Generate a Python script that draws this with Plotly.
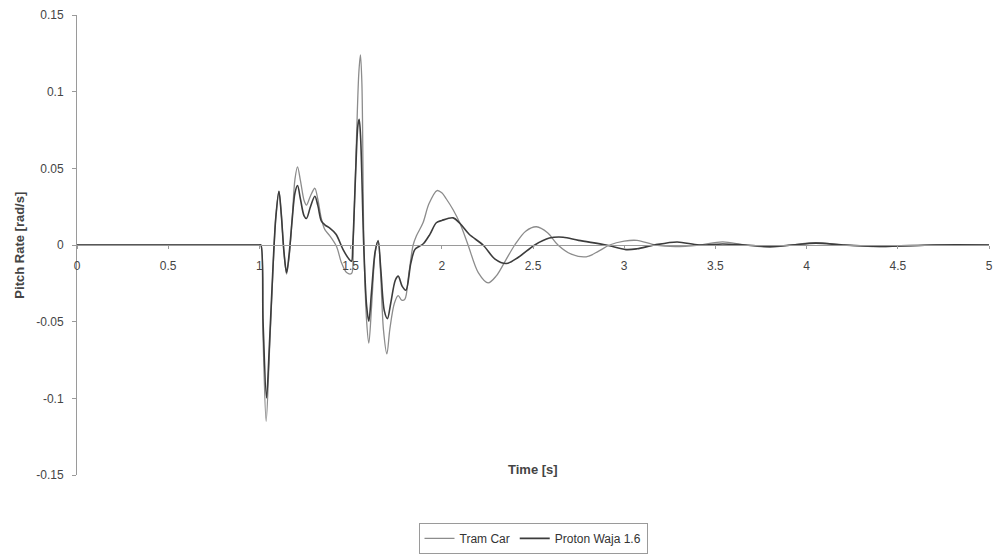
import plotly.graph_objects as go

# Pitch-rate response of two vehicles crossing a bump
t_tram = [0, 0.5, 1.0, 1.008, 1.02, 1.037, 1.055, 1.075, 1.09, 1.107, 1.12, 1.135, 1.149,
          1.163, 1.18, 1.195, 1.209, 1.225, 1.245, 1.258, 1.28, 1.304, 1.32, 1.34, 1.359,
          1.386, 1.423, 1.45, 1.478, 1.505, 1.514, 1.53, 1.545, 1.554, 1.562, 1.573, 1.588,
          1.6, 1.615, 1.635, 1.651, 1.665, 1.68, 1.699, 1.715, 1.74, 1.761, 1.78, 1.797,
          1.82, 1.843, 1.861, 1.897, 1.93, 1.974, 2.0, 2.025, 2.062, 2.1, 2.144, 2.2, 2.254,
          2.3, 2.35, 2.4, 2.46, 2.519, 2.58, 2.637, 2.71, 2.792, 2.86, 2.92, 3.0, 3.07, 3.17,
          3.28, 3.41, 3.54, 3.66, 3.8, 3.92, 4.05, 4.2, 4.4, 4.7, 5.0]
v_tram = [0, 0, 0, 0, -0.06, -0.115, -0.07, -0.015, 0.018, 0.035, 0.02, -0.005, -0.019,
          -0.008, 0.018, 0.043, 0.051, 0.042, 0.029, 0.026, 0.032, 0.037, 0.03, 0.017, 0.010,
          0.006, -0.001, -0.0116, -0.018, -0.0186, 0.0, 0.06, 0.112, 0.124, 0.105, 0.0, -0.05,
          -0.064, -0.04, -0.005, 0.003, -0.02, -0.055, -0.071, -0.055, -0.038, -0.033, -0.036, -0.0355,
          -0.018, 0.0, 0.006, 0.0145, 0.027, 0.0355, 0.034, 0.030, 0.023, 0.014, 0.0, -0.018, -0.0247,
          -0.02, -0.01, 0.0, 0.009, 0.0119, 0.008, 0.0, -0.006, -0.0077, -0.004, 0.0, 0.0025, 0.003, 0.0,
          -0.001, 0.0, 0.002, 0.0, -0.0015, 0.0, 0.0015, 0.0, -0.001, 0.0, 0.0]

t_proton = [0, 0.5, 1.0, 1.008, 1.02, 1.039, 1.055, 1.075, 1.09, 1.107, 1.12, 1.135, 1.149,
            1.163, 1.18, 1.195, 1.209, 1.225, 1.245, 1.258, 1.28, 1.304, 1.32, 1.34, 1.36,
            1.386, 1.42, 1.459, 1.49, 1.505, 1.512, 1.527, 1.54, 1.547, 1.555, 1.572, 1.588,
            1.6, 1.615, 1.635, 1.651, 1.665, 1.685, 1.702, 1.72, 1.745, 1.761, 1.783, 1.803,
            1.83, 1.852, 1.875, 1.9, 1.934, 1.97, 2.0, 2.062, 2.1, 2.15, 2.226, 2.29, 2.354,
            2.42, 2.51, 2.59, 2.665, 2.75, 2.9, 3.01, 3.07, 3.167, 3.29, 3.41, 3.54, 3.66, 3.8,
            3.92, 4.05, 4.2, 4.4, 4.7, 5.0]
v_proton = [0, 0, 0, 0, -0.05, -0.0997, -0.065, -0.013, 0.018, 0.035, 0.02, -0.005, -0.018,
            -0.006, 0.017, 0.034, 0.0388, 0.030, 0.019, 0.0173, 0.025, 0.0318, 0.026, 0.0155, 0.013,
            0.011, 0.007, -0.003, -0.009, -0.0106, 0.0, 0.045, 0.078, 0.0819, 0.07, 0.0, -0.04,
            -0.0497, -0.03, -0.004, 0.0025, -0.015, -0.043, -0.048, -0.038, -0.023, -0.0203, -0.027, -0.0295,
            -0.012, -0.003, -0.001, 0.001, 0.0068, 0.0145, 0.016, 0.0177, 0.014, 0.007, 0.0, -0.009, -0.0121,
            -0.008, 0.0, 0.0045, 0.0051, 0.003, 0.0, -0.003, -0.0025, 0.0, 0.002, 0.0, 0.0007, 0.0, -0.0009,
            0.0, 0.0012, 0.0, -0.0009, 0.0, 0.0]

x_ticks = [0, 0.5, 1, 1.5, 2, 2.5, 3, 3.5, 4, 4.5, 5]
x_tick_text = ["0", "0.5", "1", "1.5", "2", "2.5", "3", "3.5", "4", "4.5", "5"]
y_ticks = [0.15, 0.1, 0.05, 0, -0.05, -0.1, -0.15]
y_tick_text = ["0.15", "0.1", "0.05", "0", "-0.05", "-0.1", "-0.15"]

FONT = "Arial, Liberation Sans, sans-serif"

fig = go.Figure()
fig.add_trace(go.Scatter(
    x=t_tram, y=v_tram, name="Tram Car", mode="lines",
    line=dict(color="#8c8c8c", width=1.3, shape="spline", smoothing=0.9),
))
fig.add_trace(go.Scatter(
    x=t_proton, y=v_proton, name="Proton Waja 1.6", mode="lines",
    line=dict(color="#3c3c3c", width=1.6, shape="spline", smoothing=0.9),
))

fig.update_layout(
    width=998, height=555,
    margin=dict(l=77, r=9, t=15, b=80, autoexpand=False),
    paper_bgcolor="white", plot_bgcolor="white",
    font=dict(family=FONT, size=12, color="#333333"),
    showlegend=True,
    legend=dict(
        orientation="h", x=0.5, xanchor="center", y=-0.104, yanchor="top",
        bordercolor="#9a9a9a", borderwidth=1, bgcolor="white",
        font=dict(family=FONT, size=12, color="#333333"),
        itemwidth=30, tracegroupgap=0,
    ),
    xaxis=dict(
        range=[0, 5], tickvals=x_ticks, ticktext=x_tick_text,
        anchor="free", position=0.5, automargin=False,
        showline=True, linecolor="#9a9a9a", linewidth=1,
        ticks="outside", ticklen=3, tickcolor="#9a9a9a",
        ticklabelstandoff=7,
        showgrid=False, zeroline=False,
        tickfont=dict(size=12, color="#444444"),
    ),
    yaxis=dict(
        range=[-0.15, 0.15], tickvals=y_ticks, ticktext=y_tick_text,
        automargin=False,
        showline=True, linecolor="#9a9a9a", linewidth=1,
        ticks="outside", ticklen=4, tickcolor="#9a9a9a",
        ticklabelstandoff=6,
        showgrid=False, zeroline=False,
        tickfont=dict(size=12, color="#444444"),
    ),
    annotations=[
        dict(text="<b>Pitch Rate [rad/s]</b>", textangle=-90,
             xref="paper", yref="paper", x=-0.064, y=0.5,
             xanchor="center", yanchor="middle", showarrow=False,
             font=dict(family=FONT, size=13, color="#444444")),
        dict(text="<b>Time [s]</b>",
             xref="paper", yref="paper", x=0.5, y=0.012,
             xanchor="center", yanchor="middle", showarrow=False,
             font=dict(family=FONT, size=13, color="#444444")),
    ],
)

fig.write_html("out.html")
